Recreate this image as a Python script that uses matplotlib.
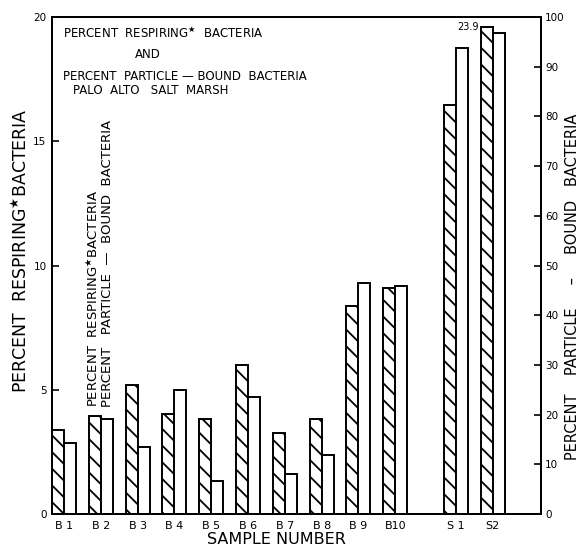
import numpy as np
import matplotlib
matplotlib.use("Agg")
import matplotlib.pyplot as plt

# sample data
samples = ["B 1", "B 2", "B 3", "B 4", "B 5", "B 6", "B 7", "B 8", "B 9", "B10", "S 1", "S2"]
positions = [0, 1, 2, 3, 4, 5, 6, 7, 8, 9, 10.65, 11.65]
respiring = [3.38, 3.94, 5.2, 4.02, 3.82, 6.0, 3.25, 3.82, 8.37, 9.1, 16.45, 23.9]
particle_bound = [14.2, 19.1, 13.5, 24.9, 6.7, 23.5, 8.1, 11.8, 46.5, 45.8, 93.8, 96.7]
resp_cap = 19.6  # the S2 bar is broken at the top of the frame

plt.rcParams["font.family"] = ["DejaVu Sans"]
plt.rcParams["hatch.linewidth"] = 1.3

fig = plt.figure(figsize=(5.82, 5.49), dpi=100)
ax = fig.add_axes([52 / 582, 1 - 514 / 549, (541 - 52) / 582, (514 - 17) / 549])
ax2 = ax.twinx()

w = 0.327
x = np.array(positions)
shown = [min(v, resp_cap) for v in respiring]
ax.bar(x, shown, width=-w, align="edge", facecolor="white", edgecolor="black",
       hatch="\\\\", linewidth=1.4)
ax2.bar(x, particle_bound, width=w, align="edge", facecolor="white", edgecolor="black",
        linewidth=1.4)

# value of the broken bar
ax.text(x[-1] - w - 0.05, resp_cap, "%.1f" % respiring[-1], ha="right", va="center", fontsize=7)

ax.set_xlim(-w, 12.96)
ax.set_ylim(0, 20)
ax2.set_ylim(0, 100)
ax.set_yticks([0, 5, 10, 15, 20])
ax2.set_yticks(np.arange(0, 101, 10))
ax.set_xticks(x)
ax.set_xticklabels(samples, fontsize=8)
ax.tick_params(axis="x", length=0, pad=5)
ax.tick_params(axis="y", direction="in", length=5, width=1.2, labelsize=7.5, pad=4)
ax2.tick_params(axis="y", direction="in", length=5, width=1.2, labelsize=7.5, pad=3)
for sp in list(ax.spines.values()) + list(ax2.spines.values()):
    sp.set_linewidth(1.4)

ax.set_xlabel("SAMPLE NUMBER", fontsize=11.5)
ax.xaxis.set_label_coords((276 - 52) / 489, -0.036)
ax.set_ylabel(r"PERCENT  RESPIRING$^{\bigstar}$BACTERIA", fontsize=12.5)
ax.yaxis.set_label_coords(-0.042, 0.53)
ax2.set_ylabel("PERCENT    PARTICLE     \u2013     BOUND   BACTERIA", fontsize=10.5, rotation=90)
ax2.yaxis.set_label_coords(1.05, 0.457)

# title block
title_kw = dict(transform=ax.transAxes, fontsize=8.5, va="center", ha="left")
ax.text(0.023, 0.967, r"PERCENT  RESPIRING$^{\bigstar}$  BACTERIA", **title_kw)
ax.text(0.170, 0.925, "AND", **title_kw)
ax.text(0.023, 0.880, "PERCENT  PARTICLE \u2014 BOUND  BACTERIA", **title_kw)
ax.text(0.043, 0.852, "PALO  ALTO   SALT  MARSH", **title_kw)

# key written sideways above B2
ax.text(0.79, 4.3, r"PERCENT  RESPIRING$^{\bigstar}$BACTERIA", rotation=90,
        ha="center", va="bottom", fontsize=9.5)
ax.text(1.17, 4.3, "PERCENT   PARTICLE  \u2014  BOUND  BACTERIA", rotation=90,
        ha="center", va="bottom", fontsize=9.5)

fig.savefig("out.png", dpi=100)
